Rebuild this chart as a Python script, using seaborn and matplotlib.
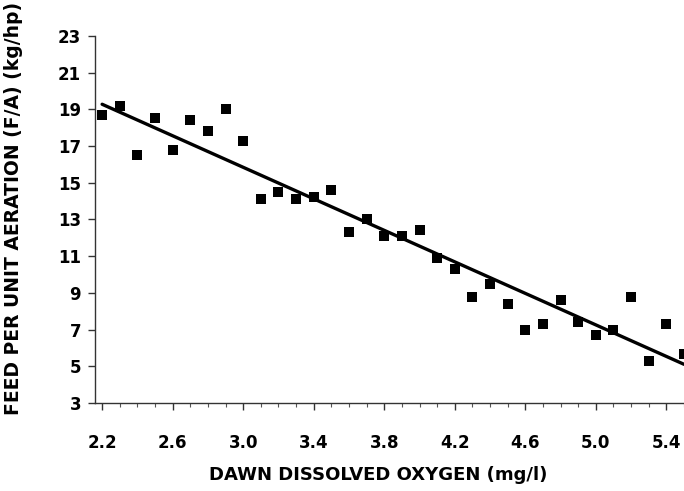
import numpy as np
import pandas as pd
import matplotlib
matplotlib.use("Agg")
import matplotlib.pyplot as plt
from matplotlib.ticker import MultipleLocator
import seaborn as sns

# Dawn dissolved oxygen (mg/l) and feed per unit aeration (kg/hp)
dawn_do = [2.2, 2.3, 2.4, 2.5, 2.6, 2.7, 2.8, 2.9, 3.0, 3.1, 3.2, 3.3,
           3.4, 3.5, 3.6, 3.7, 3.8, 3.9, 4.0, 4.1, 4.2, 4.3, 4.4, 4.5,
           4.6, 4.7, 4.8, 4.9, 5.0, 5.1, 5.2, 5.3, 5.4, 5.5]
feed_per_aeration = [18.7, 19.2, 16.5, 18.5, 16.8, 18.4, 17.8, 19.0, 17.3,
                     14.1, 14.5, 14.1, 14.2, 14.6, 12.3, 13.0, 12.1, 12.1,
                     12.4, 10.9, 10.3, 8.8, 9.5, 8.4, 7.0, 7.3, 8.6, 7.4,
                     6.7, 7.0, 8.8, 5.3, 7.3, 5.7]

x_ticks = [2.2, 2.6, 3.0, 3.4, 3.8, 4.2, 4.6, 5.0, 5.4]
y_ticks = list(range(3, 24, 2))

df = pd.DataFrame({"do": dawn_do, "fa": feed_per_aeration})

sns.set_style("ticks")
plt.rcParams["font.family"] = ["DejaVu Sans"]
plt.rcParams["text.color"] = "black"
plt.rcParams["axes.labelcolor"] = "black"
plt.rcParams["xtick.labelcolor"] = "black"
plt.rcParams["ytick.labelcolor"] = "black"

fig = plt.figure(figsize=(6.84, 4.91), dpi=100)
ax = fig.add_axes([0.139, 0.179, 0.861, 0.748])

sns.regplot(data=df, x="do", y="fa", ax=ax, ci=None, truncate=True,
            marker="s",
            scatter_kws={"s": 50, "color": "black", "linewidths": 0,
                         "alpha": 1.0},
            line_kws={"color": "black", "linewidth": 2.4})

ax.set_xlim(2.16, 5.5)
ax.set_ylim(3, 23)
ax.set_xticks(x_ticks)
ax.set_xticklabels([f"{v:.1f}" for v in x_ticks])
ax.set_yticks(y_ticks)
ax.xaxis.set_minor_locator(MultipleLocator(0.1))

sns.despine(ax=ax)
for s in ("left", "bottom"):
    ax.spines[s].set_linewidth(1.0)
    ax.spines[s].set_color("#333333")

ax.tick_params(axis="both", which="major", length=5, width=1.0,
               color="#333333", labelsize=12, labelcolor="black")
ax.tick_params(axis="y", which="major", pad=5)
ax.tick_params(axis="x", which="minor", length=3, width=0.8, color="#555555")
ax.tick_params(axis="x", which="major", pad=17)
for lbl in ax.get_xticklabels() + ax.get_yticklabels():
    lbl.set_fontweight("bold")

ax.set_xlabel("DAWN DISSOLVED OXYGEN (mg/l)", fontsize=13, fontweight="bold",
              color="black")
ax.set_ylabel("FEED PER UNIT AERATION (F/A) (kg/hp)", fontsize=13.5,
              fontweight="bold", color="black")
ax.xaxis.set_label_coords(0.48, -0.17)
ax.yaxis.set_label_coords(-0.122, 0.53)

fig.savefig("out.png", dpi=100)
